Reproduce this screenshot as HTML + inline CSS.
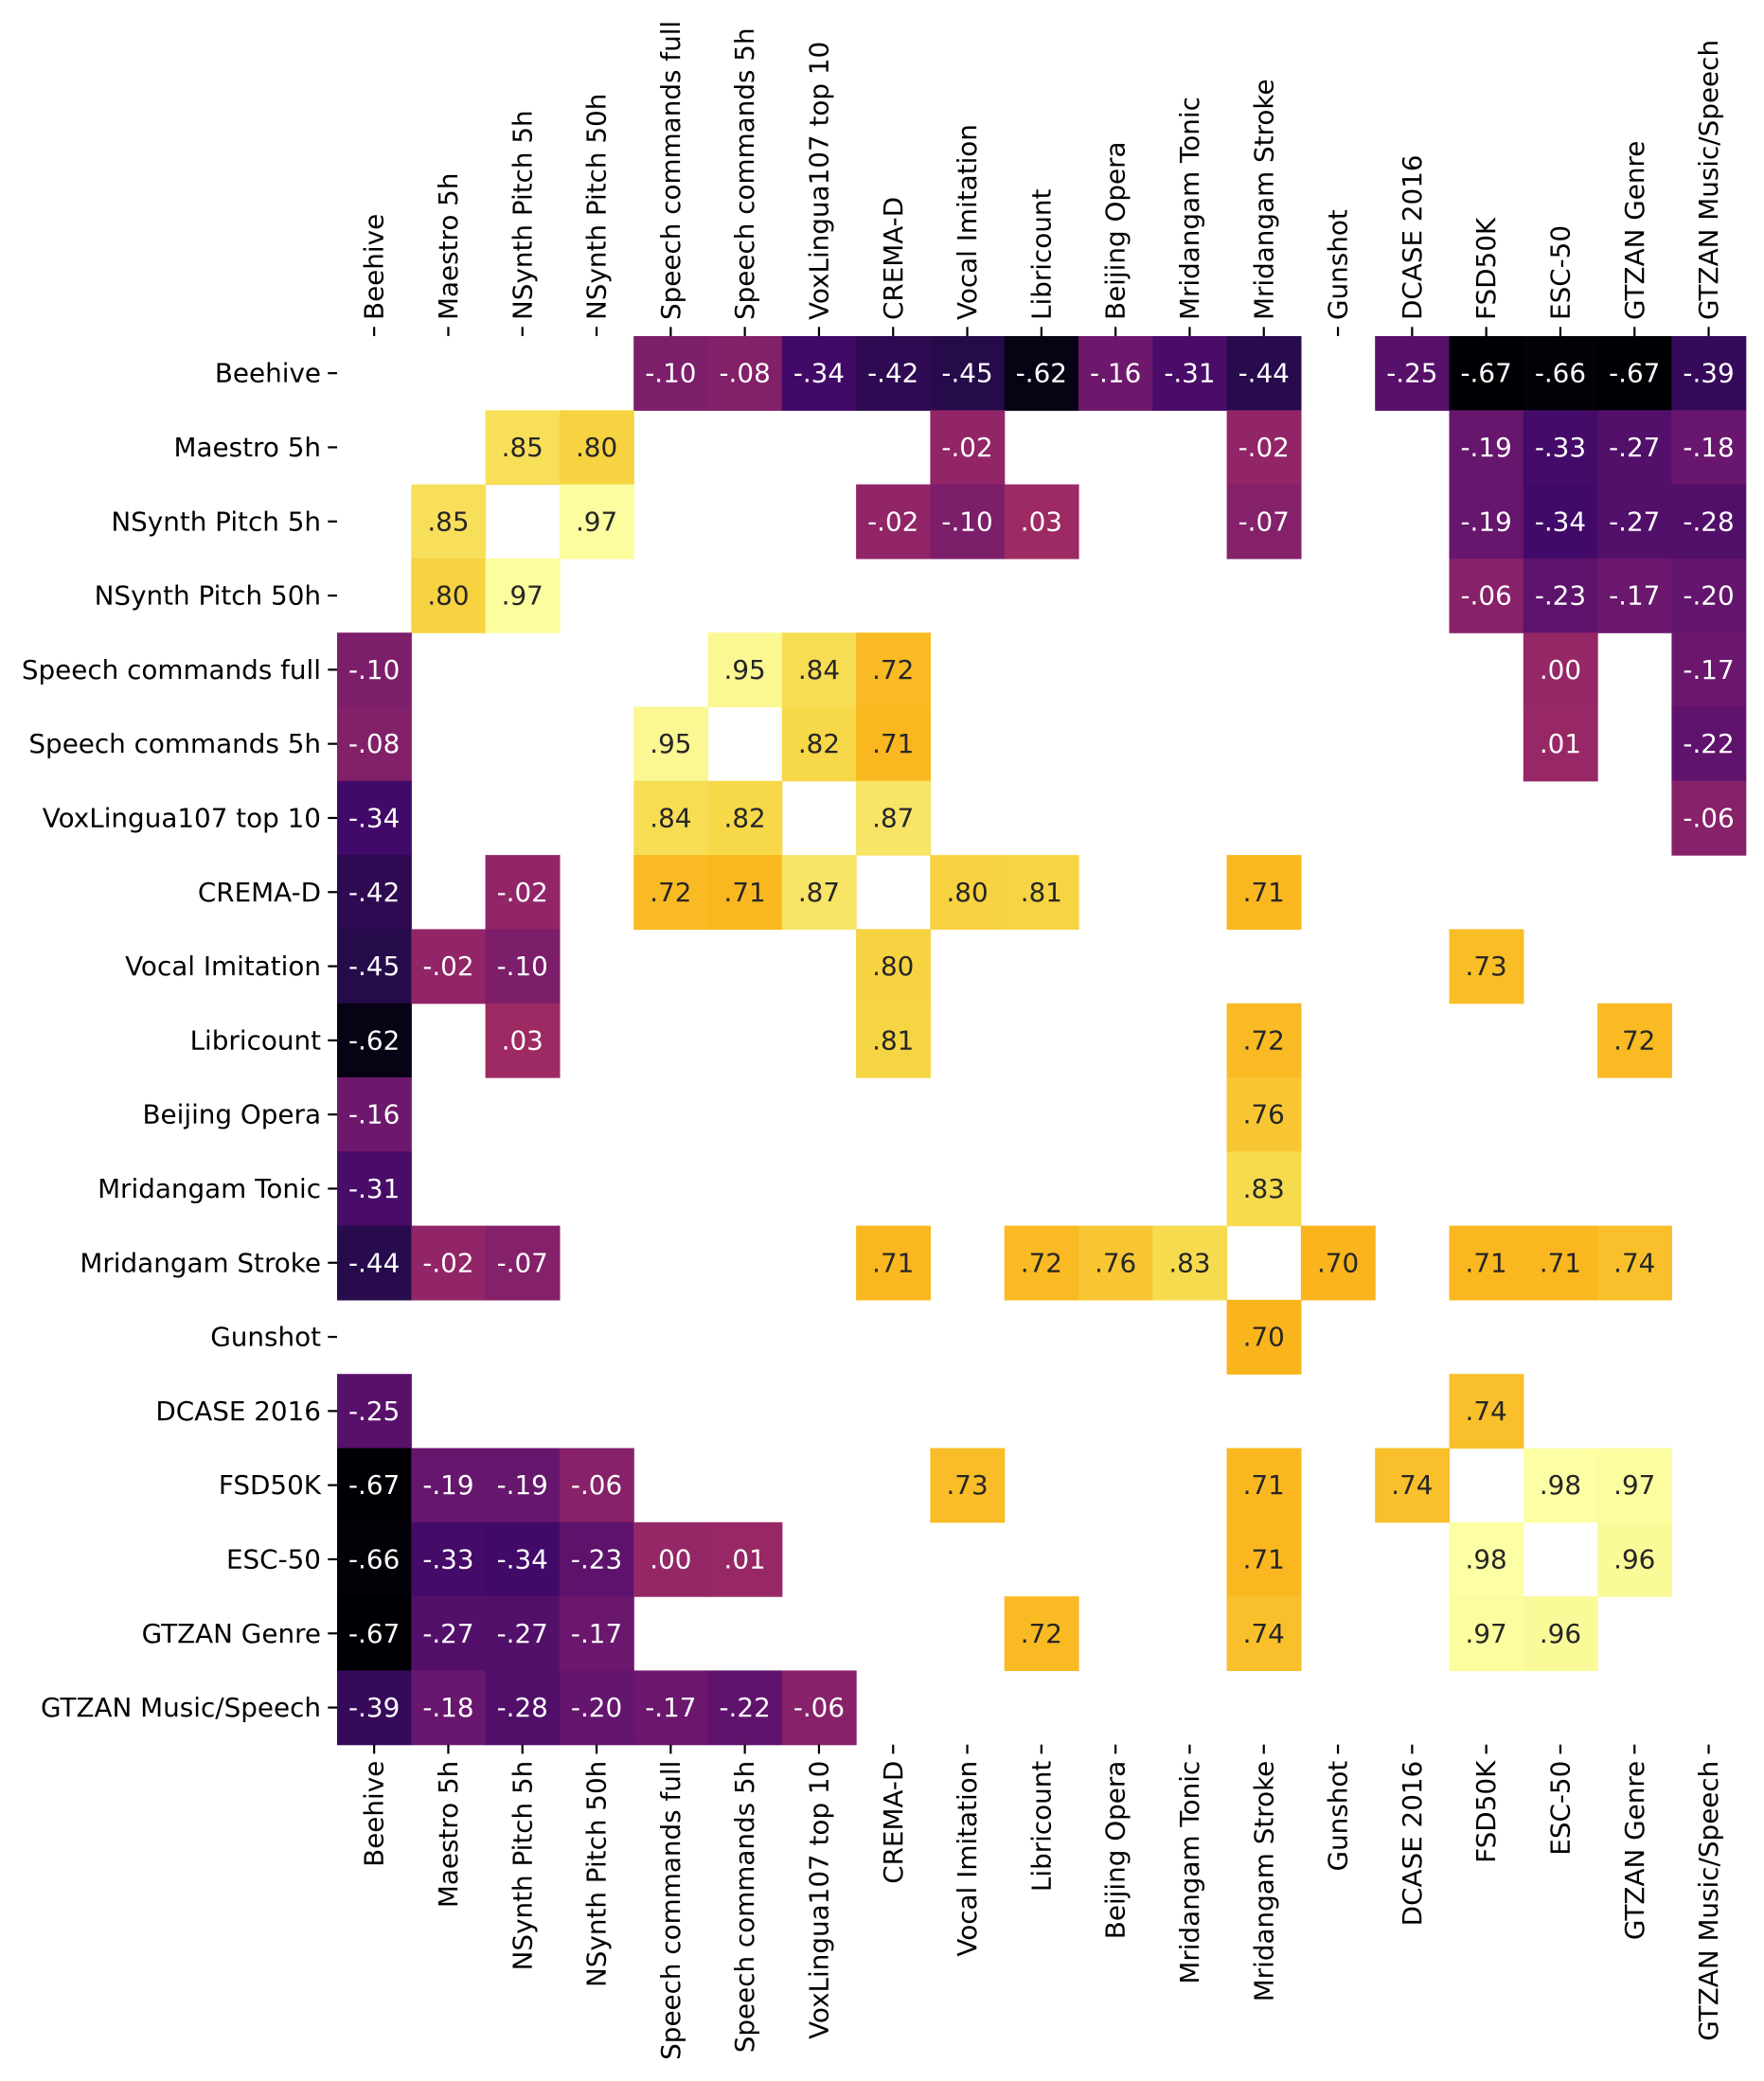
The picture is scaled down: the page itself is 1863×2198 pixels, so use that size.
<!DOCTYPE html>
<html><head><meta charset="utf-8"><style>
html,body{margin:0;padding:0;background:#fff}
svg{display:block}
text{font-family:"DejaVu Sans","Liberation Sans",sans-serif;font-size:27.8px}
</style></head><body>
<svg id="chart" xmlns="http://www.w3.org/2000/svg" width="1863" height="2198" viewBox="0 0 1863 2198">
<rect width="1863" height="2198" fill="#fff"/>
<g id="cells"></g><g id="annots"></g><g id="ylabels"></g><g id="xtop"></g><g id="xbot"></g>
</svg>
<script>
const labels = ["Beehive","Maestro 5h","NSynth Pitch 5h","NSynth Pitch 50h","Speech commands full","Speech commands 5h","VoxLingua107 top 10","CREMA-D","Vocal Imitation","Libricount","Beijing Opera","Mridangam Tonic","Mridangam Stroke","Gunshot","DCASE 2016","FSD50K","ESC-50","GTZAN Genre","GTZAN Music/Speech"];
const _ = null;
const row0  = [_,_,_,_,-.10,-.08,-.34,-.42,-.45,-.62,-.16,-.31,-.44,_,-.25,-.67,-.66,-.67,-.39];
const row1  = [_,_,.85,.80,_,_,_,_,-.02,_,_,_,-.02,_,_,-.19,-.33,-.27,-.18];
const row2  = [_,.85,_,.97,_,_,_,-.02,-.10,.03,_,_,-.07,_,_,-.19,-.34,-.27,-.28];
const row3  = [_,.80,.97,_,_,_,_,_,_,_,_,_,_,_,_,-.06,-.23,-.17,-.20];
const row4  = [-.10,_,_,_,_,.95,.84,.72,_,_,_,_,_,_,_,_,.00,_,-.17];
const row5  = [-.08,_,_,_,.95,_,.82,.71,_,_,_,_,_,_,_,_,.01,_,-.22];
const row6  = [-.34,_,_,_,.84,.82,_,.87,_,_,_,_,_,_,_,_,_,_,-.06];
const row7  = [-.42,_,-.02,_,.72,.71,.87,_,.80,.81,_,_,.71,_,_,_,_,_,_];
const row8  = [-.45,-.02,-.10,_,_,_,_,.80,_,_,_,_,_,_,_,.73,_,_,_];
const row9  = [-.62,_,.03,_,_,_,_,.81,_,_,_,_,.72,_,_,_,_,.72,_];
const row10 = [-.16,_,_,_,_,_,_,_,_,_,_,_,.76,_,_,_,_,_,_];
const row11 = [-.31,_,_,_,_,_,_,_,_,_,_,_,.83,_,_,_,_,_,_];
const row12 = [-.44,-.02,-.07,_,_,_,_,.71,_,.72,.76,.83,_,.70,_,.71,.71,.74,_];
const row13 = [_,_,_,_,_,_,_,_,_,_,_,_,.70,_,_,_,_,_,_];
const row14 = [-.25,_,_,_,_,_,_,_,_,_,_,_,_,_,_,.74,_,_,_];
const row15 = [-.67,-.19,-.19,-.06,_,_,_,_,.73,_,_,_,.71,_,.74,_,.98,.97,_];
const row16 = [-.66,-.33,-.34,-.23,.00,.01,_,_,_,_,_,_,.71,_,_,.98,_,.96,_];
const row17 = [-.67,-.27,-.27,-.17,_,_,_,_,_,.72,_,_,.74,_,_,.97,.96,_,_];
const row18 = [-.39,-.18,-.28,-.20,-.17,-.22,-.06,_,_,_,_,_,_,_,_,_,_,_,_];
const matrix = [row0,row1,row2,row3,row4,row5,row6,row7,row8,row9,row10,row11,row12,row13,row14,row15,row16,row17,row18];
const vmin = -0.67, vmax = 0.98;

const X0 = 356, Y0 = 355, C = 78.3;
const NS = "http://www.w3.org/2000/svg";
const xPos = i => X0 + i * C;
const yPos = i => Y0 + i * C;
const stops = [[0,0,4],[22,11,57],[66,10,104],[106,23,110],[147,38,103],[188,55,84],[221,81,58],[243,120,25],[252,165,10],[246,215,70],[252,255,164]];
function inferno(t){
  t = Math.max(0, Math.min(1, t)) * 10;
  const i = Math.min(9, Math.floor(t)), f = t - i;
  const a = stops[i], b = stops[i+1];
  return [0,1,2].map(k => Math.round(a[k] + (b[k]-a[k]) * f));
}
function fmt(v){ let s = Math.abs(v).toFixed(2).replace(/^0/, ''); return (v < 0 ? '-' : '') + s; }
function mk(tag, attrs, parent){ const e = document.createElementNS(NS, tag); for (const k in attrs) e.setAttribute(k, attrs[k]); parent.appendChild(e); return e; }

const gC = document.getElementById('cells'), gA = document.getElementById('annots');
matrix.forEach((row, r) => row.forEach((v, c) => {
  if (v === null) return;
  const rgb = inferno((v - vmin) / (vmax - vmin));
  const rect = mk('rect', {x: xPos(c), y: yPos(r), width: C + 0.6, height: C + 0.6, fill: `rgb(${rgb.join(',')})`}, gC);
  
  
  const lum = (0.2126*rgb[0] + 0.7152*rgb[1] + 0.0722*rgb[2]) / 255;
  const t = mk('text', {x: xPos(c) + C/2, y: yPos(r) + C/2, 'text-anchor': 'middle', 'dominant-baseline': 'central', fill: lum > 0.408 ? '#262626' : '#ffffff'}, gA);
  t.textContent = fmt(v);
  
  
}));

const gY = document.getElementById('ylabels'), gT = document.getElementById('xtop'), gB = document.getElementById('xbot');
labels.forEach((lab, i) => {
  const cy = yPos(i) + C/2;
  mk('line', {x1: X0 - 9.7, x2: X0, y1: cy, y2: cy, stroke: '#000', 'stroke-width': 2.2}, gY);
  const ty = mk('text', {x: X0 - 17, y: cy, 'text-anchor': 'end', 'dominant-baseline': 'central', fill: '#000'}, gY);
  ty.textContent = lab;
  
  

  const cx = xPos(i) + C/2;
  mk('line', {x1: cx, x2: cx, y1: Y0 - 9.7, y2: Y0, stroke: '#000', 'stroke-width': 2.2}, gT);
  const tt = mk('text', {x: 0, y: 0, 'text-anchor': 'start', 'dominant-baseline': 'central', fill: '#000', transform: `translate(${cx},${Y0 - 17}) rotate(-90)`}, gT);
  tt.textContent = lab;
  
  

  const yb = Y0 + 19 * C;
  mk('line', {x1: cx, x2: cx, y1: yb, y2: yb + 9.7, stroke: '#000', 'stroke-width': 2.2}, gB);
  const tb = mk('text', {x: 0, y: 0, 'text-anchor': 'end', 'dominant-baseline': 'central', fill: '#000', transform: `translate(${cx},${yb + 17}) rotate(-90)`}, gB);
  tb.textContent = lab;
  
  
});
</script>
</body></html>
